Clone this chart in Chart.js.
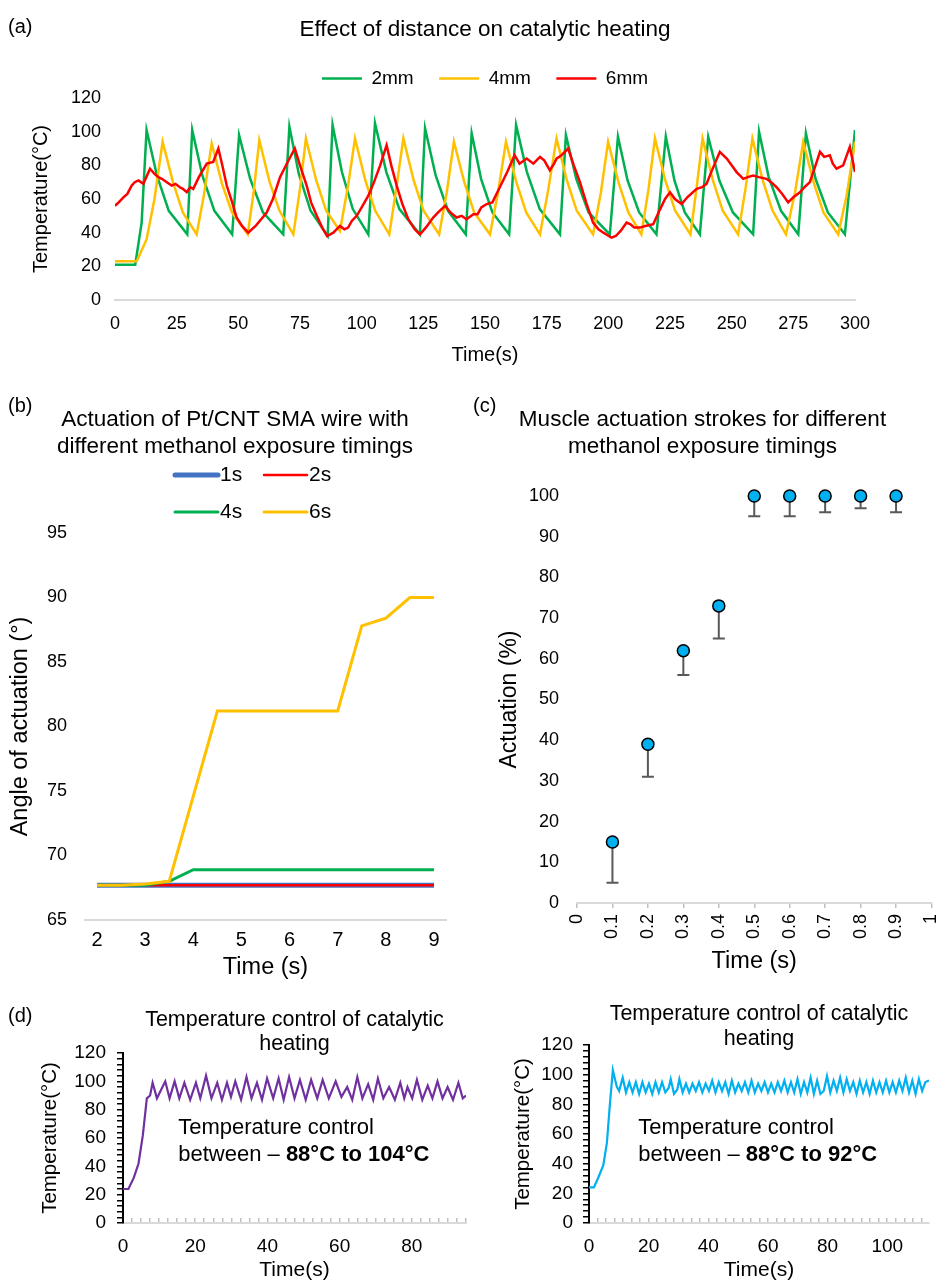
<!DOCTYPE html>
<html>
<head>
<meta charset="utf-8">
<script src="https://cdn.jsdelivr.net/npm/chart.js@4.4.1/dist/chart.umd.min.js"></script>
<style>
  body { margin: 0; background: #fff; }
  #page { position: relative; width: 939px; height: 1283px; overflow: hidden; font-family: 'Liberation Sans', Arial, sans-serif; }
  canvas { position: absolute; }
  .tag { position: absolute; font-size: 20px; color: #000; }
</style>
</head>
<body>
<div id="page">
  <canvas id="chartA" width="939" height="372" style="left:0;top:0"></canvas>
  <canvas id="chartB" width="470" height="605" style="left:0;top:380px"></canvas>
  <canvas id="chartC" width="469" height="605" style="left:470px;top:380px"></canvas>
  <canvas id="chartD1" width="470" height="283" style="left:0;top:1000px"></canvas>
  <canvas id="chartD2" width="469" height="283" style="left:470px;top:1000px"></canvas>
  <div class="tag" style="left:8px;top:15px">(a)</div>
  <div class="tag" style="left:8px;top:394px">(b)</div>
  <div class="tag" style="left:473px;top:394px">(c)</div>
  <div class="tag" style="left:8px;top:1004px">(d)</div>
</div>
<script>
// (a) effect of distance
const time2mm = [0, 8.2, 10.8, 12.8, 17, 21.8, 29.3, 31.3, 35.4, 40.3, 47.5, 50.3, 54.8, 60, 68.2, 70.7,
  74.5, 79.3, 86.2, 88.2, 92, 96.4, 102.7, 105.4, 110, 115.3, 123.6, 125.7, 130, 135, 142.2, 144.6,
  148.4, 153, 159.8, 162.6, 167, 172.2, 180.4, 182.8, 187, 192, 200.6, 203.9, 207.8, 212.5, 219.5, 223.3,
  226.8, 231, 237.1, 240.5, 245, 250.5, 258.7, 261.1, 265, 270, 277, 280.1, 284, 289, 295.9, 300];
const temp2mm = [21, 21, 46, 101, 74, 53, 39, 101, 74, 53, 39, 98, 72, 52, 39, 103,
  75, 53, 38, 104, 76, 54, 39, 105, 76, 54, 39, 102, 74, 53, 39, 99,
  72, 52, 39, 104, 76, 54, 39, 98, 72, 52, 39, 97, 71, 52, 39, 97,
  71, 52, 39, 97, 71, 52, 39, 100, 73, 53, 39, 99, 72, 52, 39, 101];

const time4mm = [0, 8.8, 12.8, 16, 19.3, 23.5, 27.5, 33.1, 36, 39.2, 43.4, 47.4, 53.8, 56.2, 58.5,
  62.7, 66.7, 72.3, 75, 77.4, 81.6, 85.6, 91.2, 94.5, 97.3, 101.5, 105.5, 111.2, 114, 116.9,
  121.1, 125.1, 131.4, 134.5, 137.4, 141.6, 145.6, 152, 155.3, 158.5, 162.7, 166.7, 172.3, 175.7, 179,
  183.2, 187.2, 193.8, 197, 199.9, 204.1, 208.1, 213.4, 216.3, 218.9, 223.1, 227.1, 233.3, 235.9, 238.2,
  242.4, 246.4, 252.6, 255.6, 258.4, 262.6, 266.6, 272, 275.7, 279, 283.2, 287.2, 293.2, 296.6, 300];
const temp4mm = [23, 23, 36, 60, 94, 70, 52, 39, 62, 93, 69, 52, 39, 64, 95,
  70, 53, 39, 66, 96, 71, 53, 41, 68, 96, 71, 53, 39, 66, 96,
  71, 53, 39, 64, 94, 70, 52, 39, 64, 94, 70, 52, 39, 66, 96,
  71, 53, 39, 64, 94, 70, 52, 39, 66, 96, 71, 53, 39, 68, 96,
  71, 53, 39, 66, 96, 71, 53, 39, 64, 94, 70, 52, 39, 62, 94];

const time6mm = [0, 1.5, 3.4, 5, 6.8, 8, 9.5, 11.5, 14.2, 16, 17.6, 19, 21, 23, 24.5, 26.3, 27.5, 29.1,
  30.5, 31.7, 34, 37.2, 39.8, 41.9, 43.5, 45.3, 47.5, 49.3, 51.5, 54, 57, 61.5, 64, 66.9, 70, 72.9,
  75, 77.7, 79.5, 81.8, 84, 86, 88.5, 91.2, 93, 94.5, 96, 98, 100, 102.7, 105, 107.5, 110.1, 112,
  114.2, 116.5, 118.9, 121.5, 123.6, 126, 129, 131, 133.8, 136, 138.5, 140.5, 142.5, 145.3, 147, 148.5,
  150.7, 153, 156, 159, 162, 164, 166.9, 169.6, 172.3, 174, 176.3, 178, 179, 181, 183.7, 186,
  188.5, 191, 193.8, 196, 198, 201.3, 203, 205, 207.4, 209, 210.5, 212.8, 215, 218.2, 221, 223,
  225, 227, 229.7, 232, 235.8, 238, 239.8, 242, 245.2, 248, 250, 252, 254.7, 256.5, 258.7, 261,
  264.1, 266, 268.2, 270.5, 272.9, 275, 277.7, 279.5, 281.7, 284, 285.8, 287.5, 289.8, 291, 292.5, 295.2,
  297.9, 300];
const temp6mm = [56, 58, 61, 63, 68, 70, 71, 69, 78, 75, 73, 72, 70, 68, 69, 67, 66, 64,
  67, 66, 73, 81, 82, 90, 80, 68, 58, 49, 44, 40, 44, 52, 60, 73, 82, 90,
  80, 68, 58, 50, 43, 38, 40, 44, 42, 43, 47, 50, 55, 62, 70, 80, 92, 80,
  68, 57, 48, 42, 39, 43, 49, 52, 56, 52, 49, 50, 48, 51, 51, 55,
  57, 58, 67, 76, 86, 81, 84, 81, 85, 83, 77, 81, 84, 86, 90, 80,
  70, 58, 46, 42, 40, 37, 38, 41, 46, 45, 43, 43, 44, 45, 54, 60,
  64, 60, 57, 61, 66, 67, 69, 77, 88, 84, 80, 76, 72, 73, 74, 73,
  72, 70, 67, 63, 58, 61, 64, 67, 70, 80, 88, 85, 86, 81, 78, 80,
  91, 76];

// (b) actuation angle
const timeB = [2, 2.5, 3, 3.5, 4, 4.5, 5, 5.5, 6, 6.5, 7, 7.5, 8, 8.5, 9];
const angle1s = [67.7, 67.7, 67.7, 67.7, 67.7, 67.7, 67.7, 67.7, 67.7, 67.7, 67.7, 67.7, 67.7, 67.7, 67.7];
const angle2s = [67.7, 67.7, 67.7, 67.7, 67.7, 67.7, 67.7, 67.7, 67.7, 67.7, 67.7, 67.7, 67.7, 67.7, 67.7];
const angle4s = [67.7, 67.7, 67.7, 68.0, 68.9, 68.9, 68.9, 68.9, 68.9, 68.9, 68.9, 68.9, 68.9, 68.9, 68.9];
const angle6s = [67.7, 67.7, 67.8, 68.0, 74.6, 81.2, 81.2, 81.2, 81.2, 81.2, 81.2, 87.8, 88.4, 90, 90];

// (c) actuation strokes
const timeC = [0.1, 0.2, 0.3, 0.4, 0.5, 0.6, 0.7, 0.8, 0.9];
const actuation = [15, 39, 62, 73, 100, 100, 100, 100, 100];
const actuationLow = [5, 31, 56, 65, 95, 95, 96, 97, 96];

// (d) temperature control
const timeD1 = [0, 1.5, 3, 4.3, 5.5, 6.6, 7.5, 8.2, 9.4, 11.7, 12.9, 14.3, 15.6, 17.0, 18.6, 20.2,
  21.4, 23.0, 24.5, 26.1, 27.4, 28.8, 29.9, 31.1, 32.7, 34.2, 35.6, 37.1, 38.5, 39.9, 41.6, 43.1,
  44.5, 46.0, 47.5, 49.0, 50.6, 52.1, 53.8, 55.3, 57.0, 58.9, 60.5, 62.1, 63.5, 64.9, 66.3, 67.9,
  69.3, 70.6, 72.1, 73.7, 75.3, 76.8, 77.9, 78.8, 80.1, 81.4, 82.9, 84.4, 85.7, 87.1, 88.5, 89.9,
  91.4, 92.9, 94.1, 95];
const tempD1 = [24, 24, 32, 42, 62, 88, 90, 99, 88, 100, 88, 100, 88, 99, 87, 99,
  88, 104, 88, 99, 87, 99, 89, 100, 87, 103, 88, 99, 87, 102, 88, 102,
  87, 103, 88, 101, 87, 101, 88, 101, 88, 100, 89, 96, 87, 103, 88, 98,
  87, 102, 88, 96, 87, 99, 88, 96, 88, 101, 87, 97, 88, 100, 88, 96,
  87, 99, 88, 90];

const timeD2 = [0, 1.6, 3, 4.8, 6, 7, 8, 9.3, 10.1, 11.3, 12.4, 13.5, 14.6, 15.7, 16.8, 17.9, 19, 20.1,
  21.2, 22.3, 23.4, 24.5, 25.6, 26.7, 27.4, 28.5, 29.6, 30.3, 31.4, 32.5, 33.6, 34.7, 35.8, 36.9, 38,
  39.1, 40.2, 41.3, 42.4, 43.5, 44.6, 45.7, 46.8, 47.9, 49, 50.1, 51.2, 52.3, 53.4, 54.5, 55.6, 56.7,
  57.8, 58.9, 60, 61.1, 62.2, 63.3, 64.4, 65.5, 66.6, 67.7, 68.8, 69.9, 71, 72.1, 73.2, 74.3, 75.4,
  76.5, 77.6, 78.7, 79.8, 80.9, 82, 83.1, 84.2, 85.3, 86.4, 87.5, 88.6, 89.7, 90.8, 91.9, 93, 94.1,
  95.2, 96.3, 97.4, 98.5, 99.6, 100.7, 101.8, 102.9, 104, 105.1, 106.2, 107.3, 108.4, 109.5, 110.6,
  111.7, 112.8, 114];
const tempD2 = [24, 24, 30, 39, 54, 80, 103, 92, 89, 98, 88, 95, 88, 95, 87, 95, 88, 94,
  87, 95, 88, 95, 88, 91, 97, 87, 90, 97, 88, 94, 88, 94, 89, 95, 88,
  94, 89, 96, 88, 95, 89, 95, 87, 96, 88, 94, 89, 95, 88, 96, 88, 94,
  89, 95, 88, 94, 88, 95, 89, 96, 88, 95, 88, 97, 87, 95, 88, 98, 87,
  96, 87, 89, 99, 88, 96, 89, 98, 88, 97, 89, 95, 87, 96, 88, 95, 87,
  96, 88, 95, 88, 96, 88, 95, 88, 96, 89, 98, 88, 96, 87, 97,
  89, 95, 96];

const FONT = "'Liberation Sans', Arial, sans-serif";
Chart.defaults.font.family = FONT;
Chart.defaults.color = '#000';

const pts = (xs, ys) => xs.map((x, i) => ({x: x, y: ys[i]}));
const fixW = w => s => { s.width = w; };
// fixed x-axis height; drop the side padding Chart.js adds for edge labels
const fixH = h => s => { s.height = h; s.paddingLeft = 0; s.paddingRight = 0; };
const base = {
  responsive: false,
  animation: false,
  devicePixelRatio: 1,
  elements: {point: {radius: 0}, line: {tension: 0}}
};

// legend laid out in two columns, as in panel (b)
const pairLegend = {
  id: 'pairLegend',
  afterDraw(chart, args, opts) {
    const ctx = chart.ctx;
    ctx.save();
    ctx.font = opts.size + 'px ' + FONT;
    ctx.textBaseline = 'middle';
    ctx.lineCap = 'round';
    chart.data.datasets.forEach((ds, i) => {
      const x = opts.cols[i % 2], y = opts.rows[Math.floor(i / 2)];
      ctx.strokeStyle = ds.borderColor;
      ctx.lineWidth = ds.borderWidth;
      ctx.beginPath();
      ctx.moveTo(x, y);
      ctx.lineTo(x + opts.lineLen, y);
      ctx.stroke();
      ctx.fillStyle = '#000';
      ctx.fillText(ds.label, x + opts.lineLen + 2, y);
    });
    ctx.restore();
  }
};

// minus-only error bars for panel (c)
const lowerErrorBars = {
  id: 'lowerErrorBars',
  beforeDatasetsDraw(chart, args, opts) {
    const ctx = chart.ctx;
    const y = chart.scales.y;
    ctx.save();
    ctx.strokeStyle = opts.color;
    ctx.lineWidth = opts.width;
    chart.getDatasetMeta(0).data.forEach((pt, i) => {
      const yLow = y.getPixelForValue(opts.low[i]);
      ctx.beginPath();
      ctx.moveTo(pt.x, pt.y);
      ctx.lineTo(pt.x, yLow);
      ctx.moveTo(pt.x - opts.cap, yLow);
      ctx.lineTo(pt.x + opts.cap, yLow);
      ctx.stroke();
    });
    ctx.restore();
  }
};

// text box inside panel (d)
const noteText = {
  id: 'noteText',
  afterDatasetsDraw(chart, args, opts) {
    const ctx = chart.ctx;
    const {x, y} = chart.scales;
    ctx.save();
    ctx.fillStyle = '#000';
    ctx.textBaseline = 'middle';
    opts.lines.forEach(line => {
      let px = x.getPixelForValue(opts.x);
      const py = y.getPixelForValue(line.y);
      line.parts.forEach(p => {
        ctx.font = (p[1] ? 'bold ' : '') + opts.size + 'px ' + FONT;
        ctx.fillText(p[0], px, py);
        px += ctx.measureText(p[0]).width;
      });
    });
    ctx.restore();
  }
};

// (a)
new Chart(document.getElementById('chartA'), {
  type: 'line',
  data: {
    datasets: [
      {label: '2mm', data: pts(time2mm, temp2mm), borderColor: '#00b050', borderWidth: 2.5, order: 3},
      {label: '4mm', data: pts(time4mm, temp4mm), borderColor: '#ffc000', borderWidth: 2.5, order: 2},
      {label: '6mm', data: pts(time6mm, temp6mm), borderColor: '#ff0000', borderWidth: 2.5, order: 1}
    ]
  },
  options: Object.assign({}, base, {
    layout: {padding: {right: 84}},
    plugins: {
      title: {display: true, text: 'Effect of distance on catalytic heating', fullSize: false,
        font: {size: 22.5, weight: 'normal', lineHeight: 1.2}, padding: {top: 16.5, bottom: 0}},
      legend: {fullSize: false, labels: {usePointStyle: true, pointStyle: 'line', pointStyleWidth: 40,
        padding: 25.5, font: {size: 19}, sort: (a, b) => a.datasetIndex - b.datasetIndex}},
      tooltip: {enabled: false}
    },
    scales: {
      x: {type: 'linear', min: 0, max: 300, afterFit: fixH(72),
        ticks: {stepSize: 25, font: {size: 18}, padding: 13},
        grid: {display: false, drawTicks: false},
        border: {color: '#d9d9d9', width: 2},
        title: {display: true, text: 'Time(s)', font: {size: 20}, padding: {top: 0, bottom: 5}}},
      y: {min: 0, max: 120, afterFit: fixW(115),
        ticks: {stepSize: 20, font: {size: 18}, padding: 14},
        grid: {display: false, drawTicks: false},
        border: {display: false},
        title: {display: true, text: 'Temperature(°C)', font: {size: 20}, padding: {top: 29, bottom: 0}}}
    }
  })
});

// (b)
new Chart(document.getElementById('chartB'), {
  type: 'line',
  data: {
    labels: timeB,
    datasets: [
      {label: '1s', data: angle1s, borderColor: '#4472c4', borderWidth: 5, order: 4},
      {label: '2s', data: angle2s, borderColor: '#ff0000', borderWidth: 2.5, order: 3},
      {label: '4s', data: angle4s, borderColor: '#00b050', borderWidth: 3, order: 2},
      {label: '6s', data: angle6s, borderColor: '#ffc000', borderWidth: 3, order: 1}
    ]
  },
  plugins: [pairLegend],
  options: Object.assign({}, base, {
    layout: {padding: {left: 24, right: 24}},
    plugins: {
      title: {display: true, text: ['Actuation of Pt/CNT SMA wire with', 'different methanol exposure timings'],
        font: {size: 22.5, weight: 'normal', lineHeight: 1.2}, padding: {top: 26.5, bottom: 72.5}},
      legend: {display: false},
      tooltip: {enabled: false},
      pairLegend: {cols: [175, 264], rows: [95, 132], lineLen: 43, size: 21}
    },
    scales: {
      x: {type: 'category', offset: true, afterFit: fixH(65),
        ticks: {autoSkip: false, maxRotation: 0, font: {size: 20}, padding: 8,
          callback: function (v, i) { return Number.isInteger(timeB[i]) ? timeB[i] : ''; }},
        grid: {display: false, drawTicks: false},
        border: {color: '#d9d9d9', width: 2},
        title: {display: true, text: 'Time (s)', font: {size: 23.5}, padding: {top: 0, bottom: 3}}},
      y: {min: 65, max: 95, afterFit: fixW(61),
        ticks: {stepSize: 5, font: {size: 18}, padding: 18},
        grid: {display: false, drawTicks: false},
        border: {display: false},
        title: {display: true, text: 'Angle of actuation (°)', font: {size: 23.5}, padding: {top: -18, bottom: 0}}}
    }
  })
});

// (c)
new Chart(document.getElementById('chartC'), {
  type: 'line',
  data: {
    datasets: [{
      label: 'Actuation', data: pts(timeC, actuation), showLine: false, clip: false,
      pointRadius: 6, pointBackgroundColor: '#00b0f0', pointBorderColor: '#000', pointBorderWidth: 1.5
    }]
  },
  plugins: [lowerErrorBars],
  options: Object.assign({}, base, {
    layout: {padding: {right: 4}},
    plugins: {
      title: {display: true, text: ['Muscle actuation strokes for different', 'methanol exposure timings'],
        font: {size: 22.5, weight: 'normal', lineHeight: 1.2}, padding: {top: 26.5, bottom: 35.5}},
      legend: {display: false},
      tooltip: {enabled: false},
      lowerErrorBars: {low: actuationLow, color: '#595959', width: 2, cap: 6}
    },
    scales: {
      x: {type: 'linear', min: 0, max: 1, afterFit: fixH(82),
        ticks: {stepSize: 0.1, minRotation: 90, maxRotation: 90, font: {size: 18}, padding: 6,
          callback: v => Math.round(v * 10) / 10},
        grid: {drawOnChartArea: false, color: '#bfbfbf', tickLength: 5, lineWidth: 1.5},
        border: {color: '#d9d9d9', width: 2},
        title: {display: true, text: 'Time (s)', font: {size: 23.5}, padding: {top: 0, bottom: 9}}},
      y: {min: 0, max: 100, afterFit: fixW(107),
        ticks: {stepSize: 10, font: {size: 18}, padding: 18},
        grid: {display: false, drawTicks: false},
        border: {display: false},
        title: {display: true, text: 'Actuation (%)', font: {size: 23}, padding: {top: 26, bottom: 0}}}
    }
  })
});

// (d) two temperature control charts
function tempControl(id, times, temps, color, xMax, xStep, xEvery, yW, yPad, yTitlePad, rightPad, titleFont, titlePad, note) {
  return new Chart(document.getElementById(id), {
    type: 'line',
    data: {datasets: [{label: 'Temperature', data: pts(times, temps), borderColor: color, borderWidth: 2.2}]},
    plugins: [noteText],
    options: Object.assign({}, base, {
      layout: {padding: {right: rightPad}},
      plugins: {
        title: {display: true, text: ['Temperature control of catalytic', 'heating'], fullSize: false,
          font: titleFont, padding: titlePad},
        legend: {display: false},
        tooltip: {enabled: false},
        noteText: note
      },
      scales: {
        x: {type: 'linear', min: 0, max: xMax, afterFit: fixH(60),
          ticks: {stepSize: xStep, includeBounds: false, autoSkip: false, maxRotation: 0, font: {size: 19}, padding: 17.6,
            callback: (v, i) => i % xEvery === 0 ? Math.round(v) : ''},
          grid: {drawOnChartArea: false, color: '#bfbfbf', tickLength: -5, lineWidth: 1.5},
          border: {color: '#d9d9d9', width: 2},
          title: {display: true, text: 'Time(s)', font: {size: 21}, padding: {top: 0, bottom: 0}}},
        y: {min: 0, max: 120, afterFit: fixW(yW),
          ticks: {stepSize: 4, autoSkip: false, font: {size: 19}, padding: yPad,
            callback: v => v % 20 === 0 ? v : ''},
          grid: {drawOnChartArea: false, color: '#000', tickLength: 6, lineWidth: 1.5},
          border: {color: '#000', width: 2},
          title: {display: true, text: 'Temperature(°C)', font: {size: 20.5}, padding: {top: yTitlePad, bottom: 0}}}
      }
    })
  });
}

tempControl('chartD1', timeD1, tempD1, '#7030a0', 95, 2.5, 8, 123, 11, 38, 4,
  {size: 21.5, weight: 'normal', lineHeight: 1.116}, {top: 8, bottom: -3},
  {x: 15.3, size: 22, lines: [
    {y: 67, parts: [['Temperature control', false]]},
    {y: 48, parts: [['between – ', false], ['88°C to 104°C', true]]}
  ]});
tempControl('chartD2', timeD2, tempD2, '#00b0f0', 114, 20 / 7, 7, 119, 10, 41, 10,
  {size: 21.5, weight: 'normal', lineHeight: 1.163}, {top: 1.5, bottom: -6.5},
  {x: 16.5, size: 22, lines: [
    {y: 64, parts: [['Temperature control', false]]},
    {y: 46, parts: [['between – ', false], ['88°C to 92°C', true]]}
  ]});
</script>
</body>
</html>
